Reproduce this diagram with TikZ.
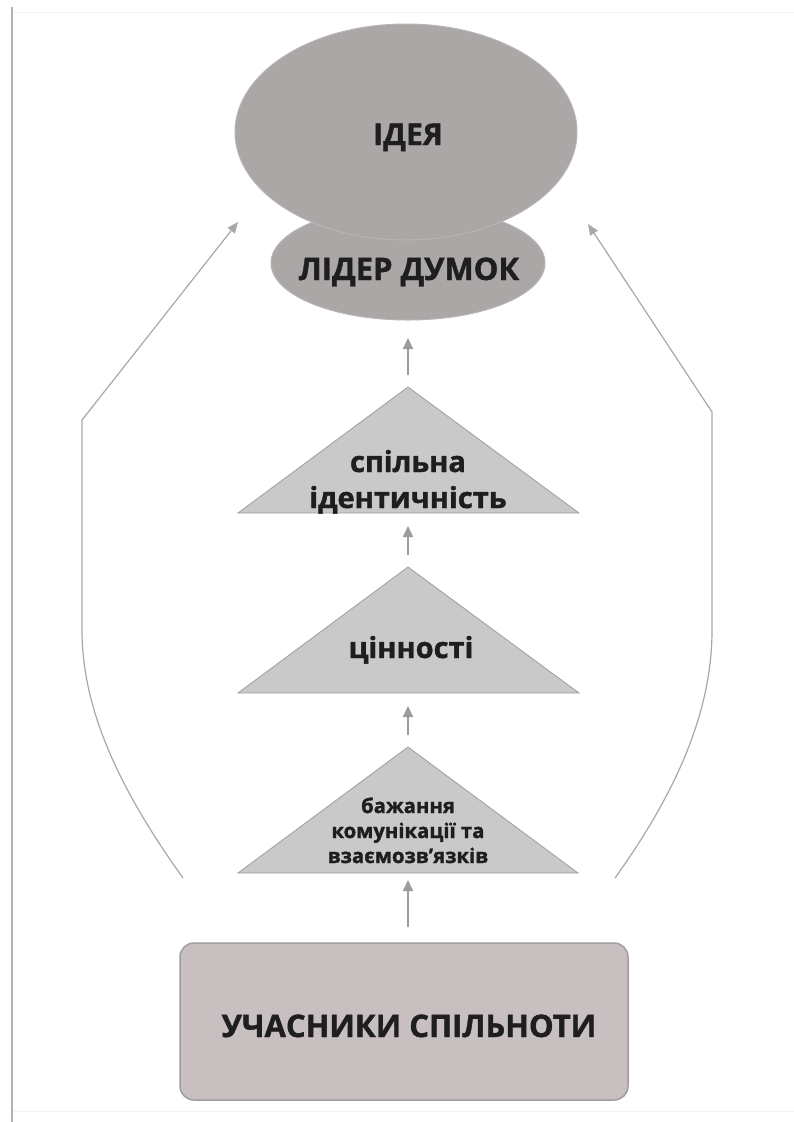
\documentclass[tikz,border=0pt]{standalone}
\usepackage{fontspec}
\setmainfont{Open Sans}[BoldFeatures={FakeBold=1.3}]
\usetikzlibrary{arrows.meta,shapes.geometric}
\definecolor{ellfill}{HTML}{ABA7A7}
\definecolor{ellline}{HTML}{B8B5B5}
\definecolor{trifill}{HTML}{C9C9C9}
\definecolor{triline}{HTML}{9E9E9E}
\definecolor{boxfill}{HTML}{C8C0C0}
\definecolor{boxline}{HTML}{A29C9C}
\definecolor{arrcol}{HTML}{9C9C9C}
\definecolor{sidecol}{HTML}{A8A8A8}
\definecolor{txt}{HTML}{1E1E1E}
\tikzset{
  ell/.style={ellipse, fill=ellfill, draw=ellline, line width=1pt, inner sep=0pt},
  tri/.style={fill=trifill, draw=triline, line width=0.8pt},
  bigtxt/.style={anchor=base, text=txt, font=\bfseries\fontsize{30}{32}\selectfont, inner sep=0pt},
  midtxt/.style={anchor=base, text=txt, font=\bfseries\fontsize{29}{36}\selectfont, inner sep=0pt, align=center},
  smalltxt/.style={anchor=base, text=txt, font=\bfseries\fontsize{20.3}{25}\selectfont, inner sep=0pt, align=center},
  uparrow/.style={draw=arrcol, line width=1.8pt, -{Triangle[width=10pt,length=11pt]}},
  sidearrow/.style={draw=sidecol, line width=1.2pt, -{Triangle[width=9pt,length=11pt]}},
  members/.style={rectangle, rounded corners=14pt, fill=boxfill, draw=boxline, line width=1.5pt, minimum width=448pt, minimum height=157pt, inner sep=0pt}
}
\begin{document}
\begin{tikzpicture}[x=1pt,y=-1pt]
\useasboundingbox (0,0) rectangle (794,1122);
\fill[white] (0,0) rectangle (794,1122);
% page frame
\draw[draw=black!5, line width=1pt] (12,12) -- (794,12);
\draw[draw=black!5, line width=1pt] (12,1111) -- (794,1111);
\draw[draw=black!30, line width=2pt] (12,7) -- (12,1122);

% ellipses
\node[ell, minimum width=274pt, minimum height=114pt] (leader) at (408,263) {};
\node[ell, minimum width=342pt, minimum height=216pt] (idea) at (406,132) {};
\node[bigtxt] (ideatxt) at (408,145) {ІДЕЯ};
\node[bigtxt, font=\bfseries\fontsize{31}{32}\selectfont] (leadertxt) at (409,280) {ЛІДЕР ДУМОК};

% triangles
\coordinate (t1top) at (408,387); \coordinate (t1base) at (408,513);
\coordinate (t2top) at (408,567); \coordinate (t2base) at (408,693);
\coordinate (t3top) at (408,747); \coordinate (t3base) at (408,873);
\path[tri] (t1top) -- (579,513) -- (238,513) -- cycle;
\path[tri] (t2top) -- (579,693) -- (238,693) -- cycle;
\path[tri] (t3top) -- (578,873) -- (238,873) -- cycle;
\node[midtxt] (identity) at (408,472) {спільна};
\node[midtxt] (identity2) at (408,508) {ідентичність};
\node[midtxt] (values) at (411,658) {цінності};
\node[smalltxt] (wish1) at (408,813) {бажання};
\node[smalltxt] (wish2) at (408,838) {комунікації та};
\node[smalltxt] (wish3) at (408,863) {взаємозв’язків};

% members box
\node[members] (members) at (404,1021.5) {};
\node[bigtxt, font=\bfseries\fontsize{31}{32}\selectfont] (memberstxt) at (409,1037) {УЧАСНИКИ СПІЛЬНОТИ};

% vertical arrows
\coordinate (a0s) at (408,375); \coordinate (a0e) at (408,338);
\coordinate (a1s) at (408,555); \coordinate (a1e) at (408,526);
\coordinate (a2s) at (408,735); \coordinate (a2e) at (408,706);
\coordinate (a3s) at (408,927); \coordinate (a3e) at (408,880);
\draw[uparrow] (a0s) -- (a0e);
\draw[uparrow] (a1s) -- (a1e);
\draw[uparrow] (a2s) -- (a2e);
\draw[uparrow] (a3s) -- (a3e);

% side arrows
\coordinate (ls) at (183,878); \coordinate (lc) at (82,420); \coordinate (le) at (238,222);
\coordinate (rs) at (615,878); \coordinate (rc) at (712,412); \coordinate (re) at (588,224);
\draw[sidearrow] (ls) .. controls (120,790) and (82,710) .. (82,630) -- (lc) -- (le);
\draw[sidearrow] (rs) .. controls (678,790) and (712,710) .. (712,630) -- (rc) -- (re);
\end{tikzpicture}
\end{document}
